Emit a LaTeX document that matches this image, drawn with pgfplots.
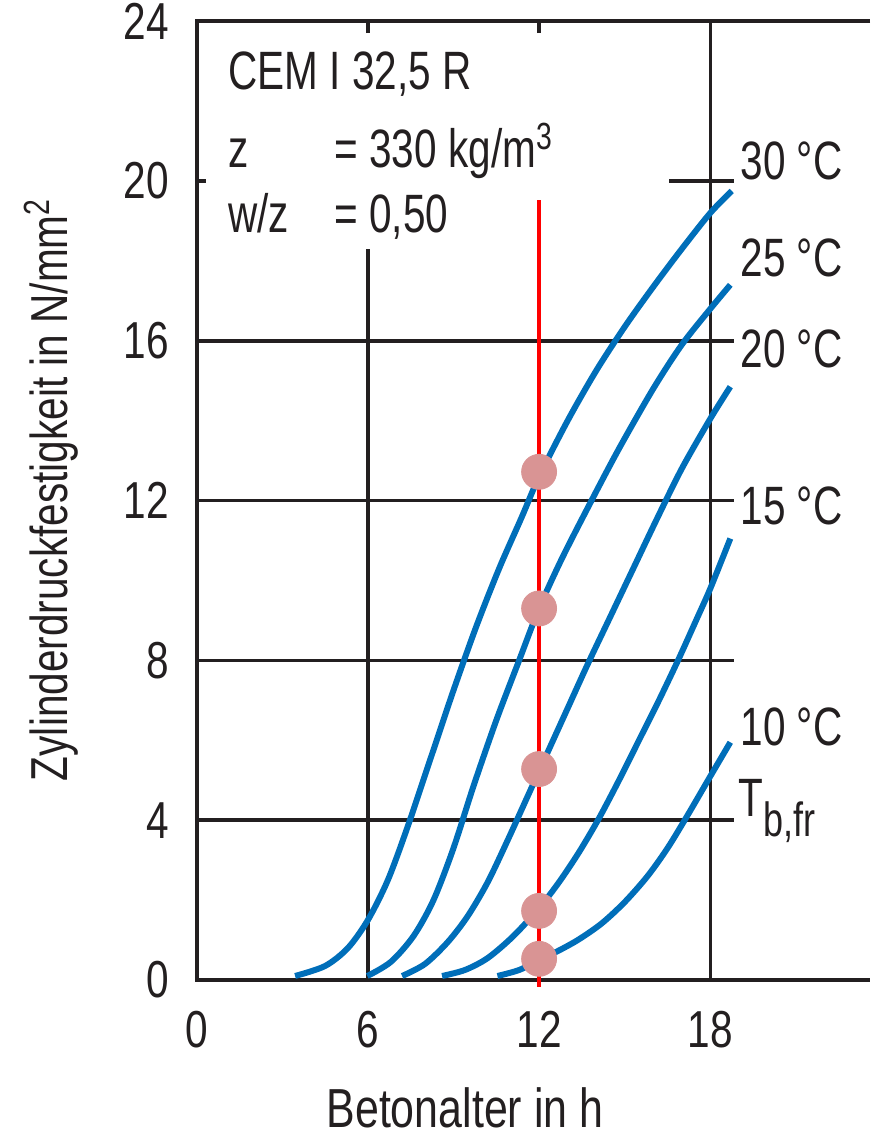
\documentclass[border=0pt]{standalone}
\usepackage{fontspec}
\setmainfont[FakeStretch=0.78]{Liberation Sans}
\newfontfamily\annfont[FakeStretch=0.75]{Liberation Sans}
\usepackage{pgfplots}
\pgfplotsset{compat=1.18}
\definecolor{curveblue}{RGB}{0,110,185}
\definecolor{dotpink}{RGB}{217,148,148}
\definecolor{ink}{RGB}{35,31,32}

\begin{document}
\begin{tikzpicture}
\begin{axis}[
    scale only axis,
    width=336.75pt, height=479.4pt,
    xmin=0, xmax=23.6, ymin=0, ymax=24,
    clip=false,
    axis line style={draw=none},
    tick style={draw=none},
    major tick length=0pt,
    xtick={0,6,12,18},
    ytick={0,4,8,12,16,20,24},
    /pgf/number format/assume math mode=true,
    tick label style={font=\fontsize{26}{26}\selectfont, text=ink, inner sep=0pt},
    xticklabel style={anchor=base, yshift=-34pt},
    yticklabel style={anchor=east, xshift=-13.75pt},
]
% invisible frame so the page has the reference's proportions
\path (axis cs:-6.89,-3.93) rectangle (axis cs:23.6,24.53);

% grid
\draw[ink, line width=1.8pt] (axis cs:0,4) -- (axis cs:18.83,4);
\draw[ink, line width=1.8pt] (axis cs:0,8) -- (axis cs:18.83,8);
\draw[ink, line width=1.8pt] (axis cs:0,12) -- (axis cs:18.83,12);
\draw[ink, line width=1.8pt] (axis cs:0,16) -- (axis cs:18.83,16);
\draw[ink, line width=1.8pt] (axis cs:0,20) -- (axis cs:0.33,20);
\draw[ink, line width=1.8pt] (axis cs:16.56,20) -- (axis cs:18.83,20);
\draw[ink, line width=1.8pt] (axis cs:6,0) -- (axis cs:6,18.3);
\draw[ink, line width=1.8pt] (axis cs:12,0) -- (axis cs:12,18.3);
\draw[ink, line width=1.8pt] (axis cs:6,23.7) -- (axis cs:6,24);
\draw[ink, line width=1.8pt] (axis cs:12,23.7) -- (axis cs:12,24);
\draw[ink, line width=1.8pt] (axis cs:18,0) -- (axis cs:18,24);
% frame (no right side)
\draw[ink, line width=2pt] (axis cs:23.6,24) -- (axis cs:0,24) -- (axis cs:0,0) -- (axis cs:23.6,0);

% strength curves, 30 / 25 / 20 / 15 / 10 degC
\addplot[curveblue, line width=3pt, smooth] coordinates {
    (3.45,0.1) (4.5,0.35) (5.3,0.8) (6.0,1.5) (6.7,2.5) (7.4,3.85) (8.2,5.55)
    (9.0,7.25) (9.8,8.85) (10.6,10.3) (11.4,11.6) (12.0,12.6) (13.0,14.0)
    (14.0,15.25) (15.0,16.35) (16.0,17.35) (17.0,18.3) (18.0,19.2) (18.75,19.75)
};
\addplot[curveblue, line width=3pt, smooth] coordinates {
    (5.98,0.1) (6.8,0.45) (7.6,1.1) (8.3,2.0) (9.0,3.3) (9.7,4.85) (10.5,6.5)
    (11.3,8.0) (12.0,9.3) (12.8,10.55) (13.8,11.95) (14.8,13.3) (16.0,14.8)
    (17.0,15.9) (18.0,16.8) (18.7,17.4)
};
\addplot[curveblue, line width=3pt, smooth] coordinates {
    (7.2,0.1) (8.0,0.4) (8.8,0.95) (9.5,1.6) (10.2,2.45) (10.9,3.5) (11.6,4.6)
    (12.3,5.7) (13.0,6.8) (13.7,7.9) (14.5,9.1) (15.3,10.3) (16.1,11.5)
    (17.0,12.8) (18.0,14.05) (18.7,14.85)
};
\addplot[curveblue, line width=3pt, smooth] coordinates {
    (8.6,0.1) (9.4,0.25) (10.2,0.55) (11.1,1.1) (12.0,1.8) (12.7,2.45) (13.4,3.2)
    (14.1,4.05) (14.8,5.0) (15.5,6.0) (16.2,7.0) (16.9,8.05) (17.5,9.0)
    (18.0,9.8) (18.7,11.05)
};
\addplot[curveblue, line width=3pt, smooth] coordinates {
    (10.54,0.1) (11.3,0.25) (12.0,0.5) (12.7,0.74) (13.4,1.02) (14.2,1.42)
    (15.0,1.95) (15.8,2.6) (16.5,3.3) (17.2,4.12) (18.0,5.1) (18.7,5.95)
};

% reading line at 12 h and its points
\addplot[red, line width=1.7pt] coordinates {(12,-0.17) (12,19.52)};
\addplot[only marks, mark=*, mark size=8.75pt, color=dotpink]
    coordinates {(12,12.72) (12,9.30) (12,5.28) (12,1.73) (12,0.53)};

% annotations
\begin{scope}[every node/.style={font=\annfont\fontsize{27}{27}\selectfont, text=ink, inner sep=0pt, anchor=base west}]
\node at (axis cs:1.10,22.28) {CEM I 32,5 R};
\node at (axis cs:1.10,20.33) {z};
\node at (axis cs:4.82,20.33) {= 330 kg/m\textsuperscript{3}};
\node at (axis cs:1.10,18.70) {w/z};
\node at (axis cs:4.82,18.70) {= 0,50};
\node at (axis cs:19.05,20.03) {30 °C};
\node at (axis cs:19.05,17.60) {25 °C};
\node at (axis cs:19.05,15.34) {20 °C};
\node at (axis cs:19.05,11.39) {15 °C};
\node at (axis cs:19.05,5.88) {10 °C};
\node at (axis cs:18.98,4.08) {T\raisebox{-10pt}{\fontsize{24}{24}\selectfont b,fr}};
\end{scope}

% axis titles
\node[font=\fontsize{27.5}{27.5}\selectfont, text=ink, inner sep=0pt, anchor=base west]
    at (axis cs:4.54,-3.70) {Betonalter in h};
\node[font=\fontsize{26}{26}\selectfont, text=ink, inner sep=0pt, anchor=base, rotate=90]
    at (axis cs:-4.54,12.27) {Zylinderdruckfestigkeit in N/mm\textsuperscript{2}};
\end{axis}
\end{tikzpicture}
\end{document}
